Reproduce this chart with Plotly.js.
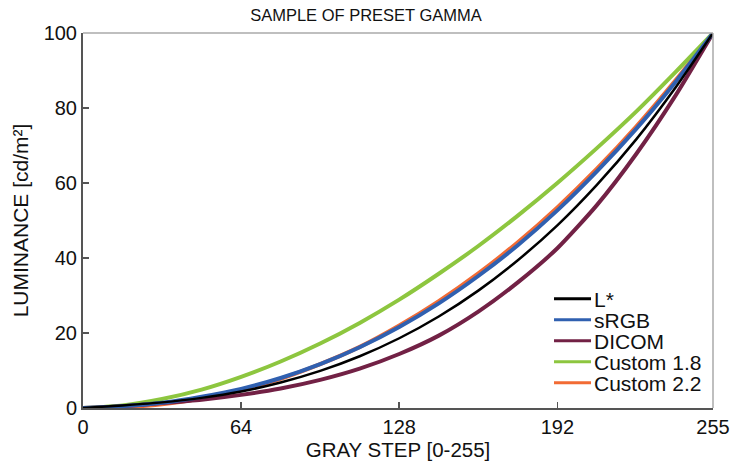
<!DOCTYPE html>
<html>
<head>
<meta charset="utf-8">
<script src="https://cdn.plot.ly/plotly-3.0.1.min.js"></script>
<style>html,body{margin:0;padding:0;background:#fff;}#chart{width:732px;height:468px;}</style>
</head>
<body>
<div id="chart"></div>
<script>
const grayStep = [0, 16, 32, 48, 64, 80, 96, 112, 128, 144, 160, 176, 192, 208, 224, 240, 255];
const lStar     = [0, 0.7, 1.5, 2.7, 4.4, 6.8, 9.9, 13.8, 18.6, 24.4, 31.3, 39.4, 48.7, 59.5, 71.7, 85.6, 100];
const sRGB      = [0, 0.5, 1.4, 3.0, 5.1, 8.0, 11.7, 16.2, 21.6, 27.9, 35.2, 43.4, 52.7, 63.1, 74.5, 87.1, 100];
const dicom     = [0, 0.5, 1.3, 2.2, 3.5, 5.2, 7.5, 10.5, 14.4, 19.3, 25.7, 33.5, 42.6, 54.1, 67.8, 83.5, 100];
const custom18  = [0, 0.7, 2.4, 4.9, 8.3, 12.4, 17.2, 22.7, 28.9, 35.8, 43.2, 51.3, 60.0, 69.3, 79.1, 89.7, 100];
const custom22  = [0, 0.2, 1.0, 2.5, 4.8, 7.8, 11.7, 16.3, 22.0, 28.5, 35.9, 44.2, 53.5, 63.8, 75.1, 87.5, 100];
const xTicks = [0, 64, 128, 192, 255];
const yTicks = [0, 20, 40, 60, 80, 100];

function tr(name, y, color, width, rank) {
  return {x: grayStep, y: y, name: name, type: 'scatter', mode: 'lines',
          line: {color: color, width: width, shape: 'spline', smoothing: 0.6}, legendrank: rank};
}
const data = [
  tr('Custom 2.2', custom22, '#f26b34', 4, 5),
  tr('Custom 1.8', custom18, '#8dc63f', 4, 4),
  tr('DICOM', dicom, '#722145', 4, 3),
  tr('sRGB', sRGB, '#3060b0', 4, 2),
  tr('L*', lStar, '#000000', 2.5, 1)
];
const font = 'Liberation Sans, Arial, Helvetica, sans-serif';
const layout = {
  width: 732, height: 468,
  margin: {l: 83, r: 19, t: 33, b: 60},
  paper_bgcolor: '#fff', plot_bgcolor: '#fff',
  font: {family: font, size: 20, color: '#111'},
  title: {text: 'SAMPLE OF PRESET GAMMA', font: {size: 16.5, color: '#111'}, x: 0.5, xanchor: 'center', y: 0.98, yanchor: 'top'},
  xaxis: {range: [0, 255], tickvals: xTicks, ticktext: xTicks.map(String), ticks: 'inside', ticklen: 6, tickwidth: 1.5,
          tickcolor: '#555', showline: true, linecolor: '#555', linewidth: 2, showgrid: false, zeroline: false,
          title: {text: 'GRAY STEP [0-255]', font: {size: 20.5}, standoff: 6}, tickfont: {size: 20}},
  yaxis: {range: [0, 100], tickvals: yTicks, ticks: 'inside', ticklen: 6, tickwidth: 1.5,
          tickcolor: '#555', showline: true, linecolor: '#555', linewidth: 2, showgrid: false, zeroline: false,
          title: {text: 'LUMINANCE [cd/m²]', font: {size: 21}, standoff: 9}, tickfont: {size: 20}},
  shapes: [
    {type: 'line', xref: 'paper', yref: 'paper', x0: 0, x1: 1, y0: 1, y1: 1, line: {color: '#aaa', width: 1.5}},
    {type: 'line', xref: 'paper', yref: 'paper', x0: 1, x1: 1, y0: 0, y1: 1, line: {color: '#aaa', width: 1.5}}
  ],
  legend: {x: 0.9905, xanchor: 'right', y: 0.345, yanchor: 'top', bgcolor: 'rgba(0,0,0,0)', borderwidth: 0,
           font: {size: 21, color: '#111'}, tracegroupgap: 0, itemwidth: 30},
  showlegend: true
};
const gd = document.getElementById('chart');
Plotly.newPlot(gd, data, layout, {displayModeBar: false, staticPlot: true}).then(function () {
  // tighten legend row spacing and lengthen legend line samples to match the reference
  const items = gd.querySelectorAll('.legend .traces');
  if (!items.length) return;
  const m = /translate\(\s*([-\d.]+)[ ,]+([-\d.]+)/.exec(items[0].getAttribute('transform') || '');
  if (!m) return;
  const x0 = parseFloat(m[1]), y0 = parseFloat(m[2]);
  items.forEach(function (g, i) {
    g.setAttribute('transform', 'translate(' + x0 + ',' + (y0 + i * 21) + ')');
    g.querySelectorAll('.legendlines path').forEach(function (p) {
      p.setAttribute('d', 'M-3,0h40');
      p.style.strokeWidth = '3px';
    });
  });
});
</script>
</body>
</html>
